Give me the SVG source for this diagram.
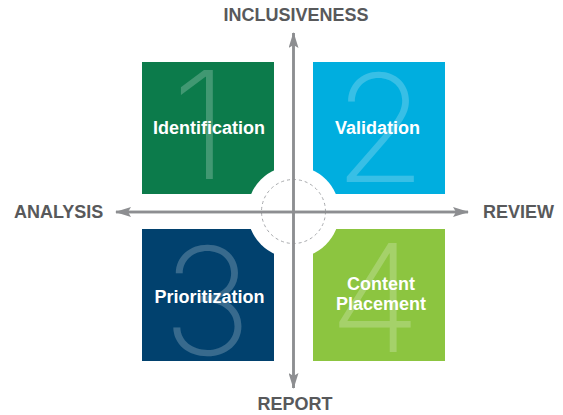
<svg xmlns="http://www.w3.org/2000/svg" width="563" height="415" viewBox="0 0 563 415">
<style>
.lbl{font-family:"Liberation Sans",Arial,sans-serif;font-weight:bold;font-size:18px;fill:#ffffff;text-anchor:middle}
.axis{font-family:"Liberation Sans",Arial,sans-serif;font-weight:bold;font-size:18px;fill:#58595b}
.num{font-family:"Inter","Roboto",sans-serif;font-weight:200;font-size:150px;fill:#ffffff;fill-opacity:0.22;text-anchor:middle}
.ax{stroke:#8d8e91;stroke-width:2.5;fill:none}
</style>
<defs>
<marker id="ah" viewBox="0 0 16 10" refX="15" refY="5" markerWidth="16" markerHeight="10" markerUnits="userSpaceOnUse" orient="auto">
<path d="M16,5 L0,0 L3,5 L0,10 Z" fill="#8d8e91"/>
</marker>
</defs>
<rect width="563" height="415" fill="#ffffff"/>
<g id="node1">
<rect x="142" y="62" width="132" height="132" fill="#0c7b4b"/>
<text class="num" x="200" y="179">1</text>
<text class="lbl" x="209" y="134">Identification</text>
</g>
<g id="node2">
<rect x="313" y="62" width="132" height="132" fill="#00aedf"/>
<text class="num" x="380" y="182">2</text>
<text class="lbl" x="377.5" y="134">Validation</text>
</g>
<g id="node3">
<rect x="142" y="229" width="132" height="132" fill="#01416e"/>
<text class="num" x="207" y="355">3</text>
<text class="lbl" x="209.5" y="303">Prioritization</text>
</g>
<g id="node4">
<rect x="313" y="229" width="132" height="132" fill="#8cc540"/>
<text class="num" x="375" y="352">4</text>
<text class="lbl" x="381" y="290">Content</text>
<text class="lbl" x="381" y="310">Placement</text>
</g>
<g id="center">
<circle cx="293.5" cy="212" r="46" fill="#ffffff"/>
<circle cx="293.5" cy="211.5" r="32" fill="none" stroke="#a7a9ac" stroke-width="1" stroke-dasharray="3,3"/>
</g>
<g id="connectors">
<line class="ax" x1="293.5" y1="388" x2="293.5" y2="33" marker-end="url(#ah)"/>
<line class="ax" x1="293.5" y1="33" x2="293.5" y2="388" marker-end="url(#ah)"/>
<line class="ax" x1="468" y1="212" x2="116" y2="212" marker-end="url(#ah)"/>
<line class="ax" x1="116" y1="212" x2="468" y2="212" marker-end="url(#ah)"/>
</g>
<g id="labels">
<text class="axis" x="296" y="21" text-anchor="middle">INCLUSIVENESS</text>
<text class="axis" x="14" y="218">ANALYSIS</text>
<text class="axis" x="483" y="218">REVIEW</text>
<text class="axis" x="295" y="410" text-anchor="middle">REPORT</text>
</g>
</svg>
